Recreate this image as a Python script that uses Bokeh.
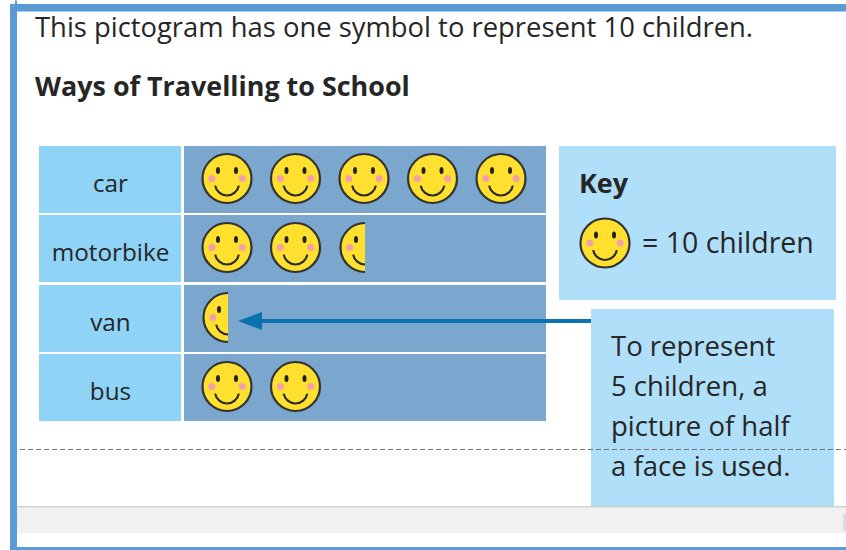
from bokeh.plotting import figure
from bokeh.models import Range1d
from bokeh.core.properties import value
from bokeh.embed import file_html
from bokeh.resources import INLINE
import math

categories = ["car", "motorbike", "van", "bus"]
children = [50, 25, 5, 20]
children_per_face = 10

intro = "This pictogram has one symbol to represent 10 children."
title = "Ways of Travelling to School"
key_title = "Key"
key_label = "= 10 children"
note_lines = ["To represent", "5 children, a", "picture of half", "a face is used."]

FONT = "Open Sans"
INK = "#262626"
W, H = 846, 550
p = figure(width=W, height=H, output_backend="svg", toolbar_location=None,
           x_range=Range1d(0.5, W + 0.5), y_range=Range1d(H + 0.5, 0.5),
           x_axis_type=None, y_axis_type=None, min_border=0,
           outline_line_color=None, background_fill_color="white")
p.grid.visible = False


def box(x0, x1, y0, y1, color):
    p.quad(left=x0, right=x1, top=y0, bottom=y1, fill_color=color, line_color=None)


def label(x, y, s, size, bold=False, align="left"):
    p.text([x], [y], text=[s], text_font=value(FONT), text_font_size=f"{size}px",
           text_color=INK, text_baseline="middle", text_align=align,
           text_font_style="bold" if bold else "normal")


def face(cx, cy, half=False):
    r = 24.5
    if half:
        p.wedge([cx], [cy], radius=r, start_angle=math.pi / 2, end_angle=3 * math.pi / 2,
                fill_color="#FFE02E", line_color=None)
        p.arc([cx], [cy], radius=r, start_angle=math.pi / 2, end_angle=3 * math.pi / 2,
              line_color="#333333", line_width=2.2)
    else:
        p.circle([cx], [cy], radius=r, fill_color="#FFE02E", line_color="#333333", line_width=2.2)
    sides = [-1] if half else [-1, 1]
    for s in sides:
        p.ellipse([cx + s * 9], [cy - 8], width=4, height=7, fill_color="#222222", line_color=None)
        p.circle([cx + s * 15.2], [cy], radius=3.5, fill_color="#F5A0A8", line_color=None)
    a0, a1 = (math.radians(190), math.radians(270)) if half else (math.radians(190), math.radians(350))
    p.arc([cx], [cy + 5], radius=12, start_angle=a0, end_angle=a1, line_color="#2A2A2A", line_width=2.2)


# frame
box(15, 17, 0, 4, "#5B9BD5")
box(10, 17, 4, 550, "#5B9BD5")
box(10, 846, 4, 11.5, "#5B9BD5")
box(10, 846, 547, 550, "#5B9BD5")
box(17, 846, 506, 533, "#F1F1F1")
box(17, 846, 506, 507.5, "#D3D3D3")
box(843, 846, 514, 531, "#DDDDDD")

label(35, 26.5, intro, 27.4)
label(35, 85.5, title, 26.9, bold=True)

# table
row_tops = [146, 215, 285, 354]
row_h = 67
face_x0, face_dx = 227, 68.5
for cat, n, top in zip(categories, children, row_tops):
    box(39, 181, top, top + row_h, "#8FD3F7")
    box(184, 546, top, top + row_h, "#7BA7CF")
    label(110.5, top + row_h / 2 + 2.5, cat, 24.3, align="center")
    faces = n / children_per_face
    cy = top + row_h / 2 - 1
    for i in range(int(faces)):
        face(face_x0 + i * face_dx, cy)
    if faces % 1:
        face(face_x0 + int(faces) * face_dx + 1, cy, half=True)

# key
box(559, 836, 146, 300, "#B0DFF9")
label(579, 182, key_title, 26.9, bold=True)
face(605, 243)
label(642, 241.5, key_label, 28.5)

# arrow
p.segment([591], [321], [255], [321], line_color="#0A72AE", line_width=4)
p.patch([238, 262, 262], [321, 312, 330], fill_color="#0A72AE", line_color=None)

# note
box(591, 834, 309, 506, "#B0DFF9")
for i, line in enumerate(note_lines):
    label(611, 345.5 + i * 40, line, 27.5)

# fold line
p.segment([20], [449.5], [846], [449.5], line_color="#777777", line_width=1, line_dash="5 3")

open("out.html", "w").write(file_html(p, INLINE))
